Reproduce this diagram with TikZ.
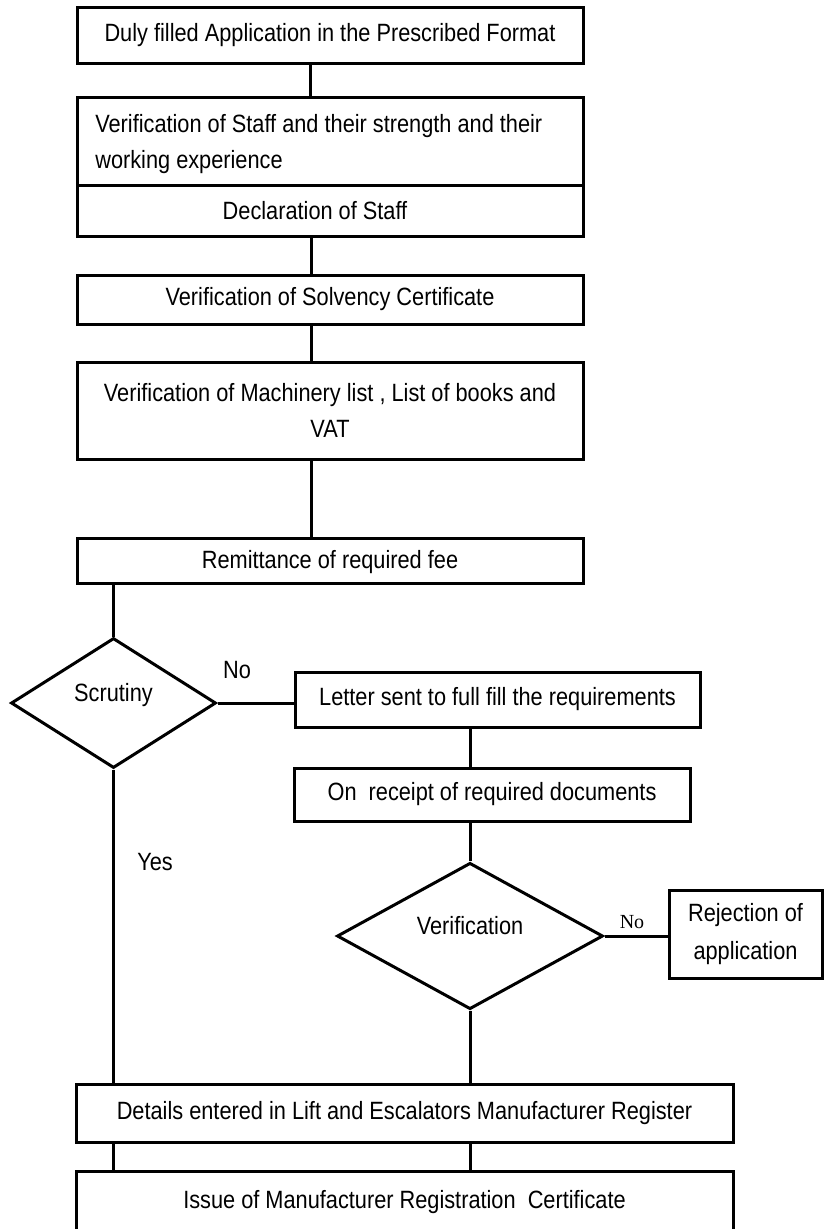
\documentclass[tikz,border=0pt]{standalone}
\usepackage{fontspec}
\setmainfont{Liberation Sans}[FakeStretch=0.87]
\newfontfamily\nofont{Liberation Serif}
\usetikzlibrary{shapes.geometric}

\begin{document}
\begin{tikzpicture}[x=1pt,y=-1pt,
  stagebox/.style={draw,line width=3pt,minimum width=506pt,inner sep=0pt,font=\fontsize{25pt}{36pt}\selectfont},
  decision/.style={diamond,draw,line width=3pt,inner sep=0pt,text height=18pt,text depth=22pt,font=\fontsize{25pt}{30pt}\selectfont},
  link/.style={line width=3pt},
  tag/.style={font=\fontsize{25pt}{30pt}\selectfont}]
\useasboundingbox (0,0) rectangle (824,1229);
\node[stagebox,minimum height=56pt] (app) at (330,35) {Duly filled Application in the Prescribed Format};
\node[stagebox,minimum height=88pt,align=left,text depth=0pt] (staff) at (330,141) {Verification of Staff and their strength and their\\working experience\hspace*{282pt}};
\node[stagebox,minimum height=51pt] (decl) at (330,210.5) {Declaration of Staff\hspace*{30pt}};
\node[stagebox,minimum height=49pt] (solv) at (330,299.5) {Verification of Solvency Certificate};
\node[stagebox,minimum height=97pt,align=center] (mach) at (330,410.5) {Verification of Machinery list , List of books and\\VAT};
\node[stagebox,minimum height=45pt,text depth=2pt] (remit) at (330,560.5) {Remittance of required fee};
\node[decision,minimum width=205pt,minimum height=130pt] (scrut) at (113.5,703) {Scrutiny};
\node[stagebox,minimum width=405pt,minimum height=55pt] (letter) at (497.5,699.5) {Letter sent to full fill the requirements};
\node[stagebox,minimum width=396pt,minimum height=53pt] (receipt) at (492,794.5) {On~ receipt of required documents};
\node[decision,minimum width=266pt,minimum height=128pt] (verif) at (470,936) {Verification};
\node[stagebox,minimum width=153pt,minimum height=88pt,align=center,font=\fontsize{25pt}{38pt}\selectfont] (reject) at (745.5,934) {Rejection of\\application};
\node[stagebox,minimum width=657pt,minimum height=58pt] (details) at (404.5,1113) {Details entered in Lift and Escalators Manufacturer Register};
\node[stagebox,minimum width=657pt,minimum height=62pt] (issue) at (404.5,1202) {Issue of Manufacturer Registration~ Certificate};
\node[tag] (no1) at (237,670) {No};
\node[font=\nofont\fontsize{20pt}{24pt}\selectfont] (no2) at (632,922) {No};
\node[tag] (yes) at (155,862) {Yes};
\draw[link] ([xshift=-20pt]app.south) -- ([xshift=-20pt]staff.north);
\foreach \a/\b in {decl/solv,solv/mach,mach/remit} \draw[link] ([xshift=-19pt]\a.south) -- ([xshift=-19pt]\b.north);
\draw[link] (remit.south -| scrut.north) -- (scrut.north);
\draw[link] (scrut.east) -- (scrut.east -| letter.west);
\draw[link] (letter.south -| verif.north) -- (receipt.north -| verif.north);
\draw[link] (receipt.south -| verif.north) -- (verif.north);
\draw[link] (verif.east) -- (verif.east -| reject.west);
\draw[link] (verif.south) -- (details.north -| verif.south);
\draw[link] (scrut.south) -- (details.north -| scrut.south);
\foreach \n in {scrut,verif} \draw[link] (details.south -| \n.south) -- (issue.north -| \n.south);
\end{tikzpicture}
\end{document}
